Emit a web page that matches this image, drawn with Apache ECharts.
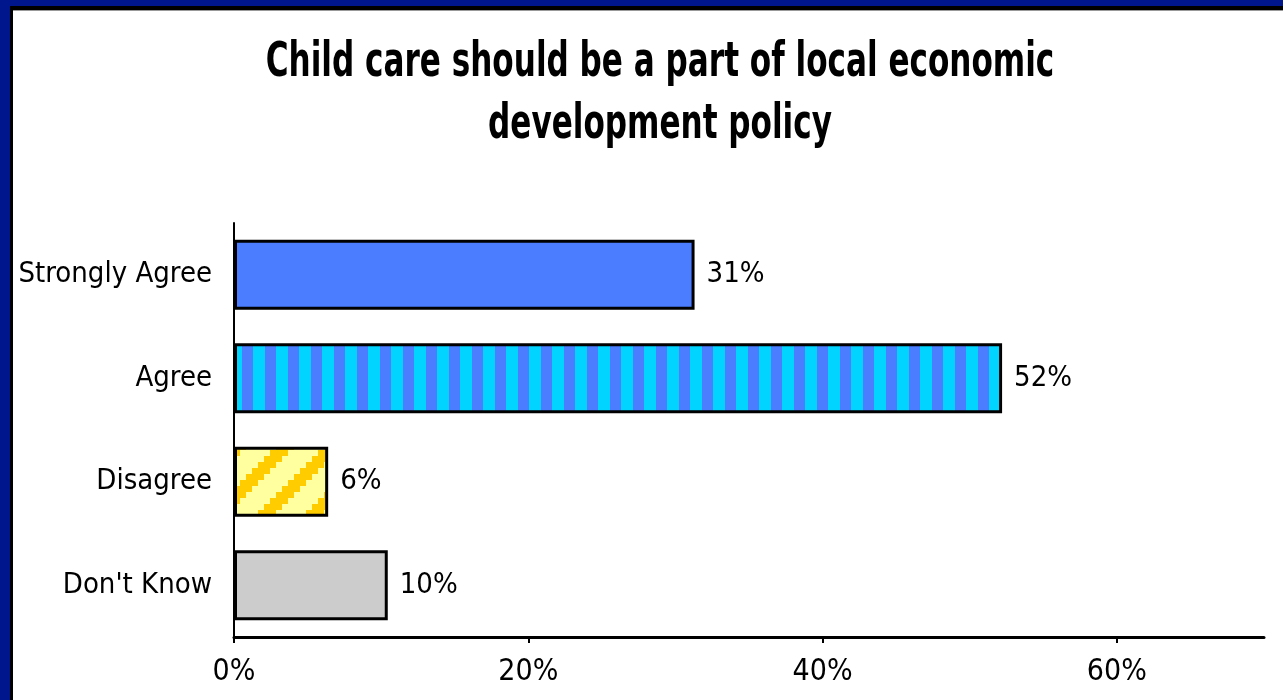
<!DOCTYPE html>
<html>
<head>
<meta charset="utf-8">
<script src="https://cdn.jsdelivr.net/npm/echarts@6/dist/echarts.min.js"></script>
<style>
html,body{margin:0;padding:0;background:#fff;}
#chart{width:1283px;height:700px;}
</style>
</head>
<body>
<div id="chart"></div>
<script>
const titleText = 'Child care should be a part of local economic\ndevelopment policy';
const categories = ['Strongly Agree', 'Agree', 'Disagree', "Don't Know"];
const values = [31.3, 52.2, 6.4, 10.45];
const xTicks = [0, 20, 40, 60];

const FONT = '"Liberation Sans Narrow", "Arial Narrow", "DejaVu Sans Condensed", sans-serif';

function stripeCanvas() {
  const c = document.createElement('canvas');
  c.width = 23; c.height = 8;
  const g = c.getContext('2d');
  g.fillStyle = '#00D4FF'; g.fillRect(0, 0, 12, 8);
  g.fillStyle = '#4A7DFF'; g.fillRect(12, 0, 11, 8);
  return c;
}
function diagCanvas() {
  const n = 8, b = 6;
  const c = document.createElement('canvas');
  c.width = n * b; c.height = n * b;
  const g = c.getContext('2d');
  for (let by = 0; by < n; by++) {
    for (let bx = 0; bx < n; bx++) {
      g.fillStyle = ((bx + by) % n) < 3 ? '#FFCC00' : '#FFFFA0';
      g.fillRect(bx * b, by * b, b, b);
    }
  }
  return c;
}

const fills = [
  '#4A7DFF',
  { image: stripeCanvas(), repeat: 'repeat' },
  { image: diagCanvas(), repeat: 'repeat' },
  '#CCCCCC'
];

const chart = echarts.init(document.getElementById('chart'), null, { renderer: 'canvas' });
chart.setOption({
  animation: false,
  backgroundColor: '#ffffff',
  graphic: [
    { type: 'rect', shape: { x: 0, y: 0, width: 1283, height: 7 }, style: { fill: '#00168C' }, silent: true },
    { type: 'rect', shape: { x: 0, y: 0, width: 10, height: 700 }, style: { fill: '#00168C' }, silent: true },
    { type: 'rect', shape: { x: 10, y: 6, width: 1273, height: 4 }, style: { fill: '#000' }, silent: true },
    { type: 'rect', shape: { x: 10, y: 6, width: 3, height: 694 }, style: { fill: '#000' }, silent: true },
    { type: 'rect', shape: { x: 13, y: 10, width: 1270, height: 1 }, style: { fill: '#999' }, silent: true },
    {
      type: 'text', x: 660, y: 33, scaleX: 0.72, silent: true,
      style: {
        text: titleText, fill: '#000', align: 'center', verticalAlign: 'top',
        font: 'bold 48px ' + FONT, lineHeight: 62
      }
    }
  ],
  grid: { left: 234, right: 19, top: 223, bottom: 63, containLabel: false },
  xAxis: {
    type: 'value',
    min: 0, max: 70, interval: 20,
    splitLine: { show: false },
    axisLine: { show: true, lineStyle: { color: '#000', width: 3 } },
    axisTick: { show: true, length: 6, lineStyle: { color: '#000', width: 2 }, customValues: xTicks },
    axisLabel: { customValues: xTicks, formatter: v => v + '%', margin: 20, fontFamily: FONT, fontSize: 30, color: '#000' }
  },
  yAxis: {
    type: 'category',
    data: categories,
    inverse: true,
    axisLine: { show: true, lineStyle: { color: '#000', width: 2 } },
    axisTick: { show: false },
    axisLabel: { margin: 22, fontFamily: FONT, fontSize: 29, color: '#000' }
  },
  series: [{
    type: 'bar',
    barWidth: 70,
    data: values.map((v, i) => ({ value: v, itemStyle: { color: fills[i] } })),
    itemStyle: { borderColor: '#000', borderWidth: 3 },
    label: {
      show: true, position: 'right', distance: 12,
      formatter: p => Math.round(p.value) + '%',
      fontFamily: FONT, fontSize: 29, color: '#000'
    }
  }]
});
</script>
</body>
</html>
